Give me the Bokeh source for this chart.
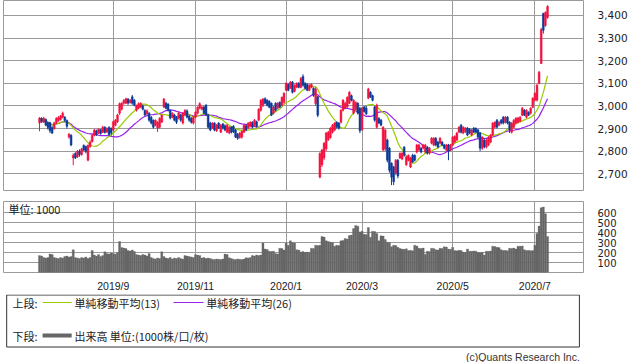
import pandas as pd
from bokeh.plotting import figure
from bokeh.layouts import column
from bokeh.models import Range1d, FixedTicker, NumeralTickFormatter, ColumnDataSource, Label
from bokeh.embed import file_html
from bokeh.resources import INLINE
from bokeh.core.properties import value

# ---------------- data ----------------
opens = [
    2924, 2945, 2928, 2940, 2925, 2925, 2905, 2900, 2925, 2935,
    2940, 2950, 2950, 2935, 2862, 2870, 2770, 2790, 2775, 2800,
    2785, 2825, 2820, 2760, 2820, 2842, 2870, 2890, 2880, 2895,
    2884, 2906, 2885, 2905, 2900, 2893, 2915, 2930, 2968, 2985,
    3012, 3012, 3030, 3015, 3040, 3025, 2981, 2990, 2995, 3000,
    2980, 2965, 2968, 2950, 2937, 2915, 2902, 2906, 2928, 2995,
    3012, 3008, 2981, 2950, 2960, 2950, 2946, 2960, 2924, 2959,
    2978, 2955, 2945, 2924, 2950, 2968, 2990, 2985, 2995, 3003,
    2960, 2924, 2902, 2924, 2890, 2924, 2884, 2920, 2912, 2884,
    2880, 2906, 2910, 2893, 2875, 2860, 2862, 2884, 2912, 2902,
    2910, 2928, 2915, 2930, 2937, 2981, 3003, 3032, 3025, 3020,
    3012, 2968, 3012, 2990, 3016, 3003, 3016, 3069, 3095, 3078,
    3105, 3065, 3082, 3100, 3082, 3130, 3100, 3095, 3069, 3082,
    3078, 3010, 3040, 2685, 2740, 2770, 2810, 2850, 2860, 2884,
    2893, 2928, 2924, 2928, 2981, 2990, 2995, 3012, 3045, 2968,
    2985, 3012, 2990, 2895, 2995, 2990, 3034, 3060, 3045, 2995,
    2906, 2945, 2937, 2805, 2810, 2849, 2813, 2747, 2730, 2703,
    2760, 2770, 2765, 2818, 2740, 2760, 2730, 2782, 2782, 2796,
    2805, 2813, 2813, 2796, 2818, 2791, 2835, 2827, 2857, 2840,
    2835, 2840, 2827, 2805, 2827, 2805, 2827, 2840, 2849, 2884,
    2915, 2880, 2886, 2902, 2897, 2871, 2902, 2900, 2893, 2880,
    2813, 2849, 2818, 2827, 2840, 2871, 2906, 2937, 2915, 2937,
    2950, 2928, 2950, 2928, 2884, 2906, 2924, 2928, 2932, 2959,
    2981, 2950, 2972, 2968, 2994, 3025, 3025, 3100, 3188, 3408,
    3356, 3391,
]
highs = [
    2950, 2950, 2952, 2945, 2930, 2930, 2910, 2930, 2950, 2955,
    2960, 2975, 2955, 2940, 2880, 2875, 2790, 2795, 2805, 2808,
    2815, 2830, 2825, 2830, 2848, 2875, 2898, 2895, 2900, 2898,
    2912, 2910, 2905, 2910, 2905, 2935, 2942, 2965, 3015, 3016,
    3030, 3036, 3035, 3030, 3048, 3030, 3005, 3015, 3016, 3005,
    2985, 2985, 2972, 2955, 2940, 2940, 2932, 2950, 2962, 3035,
    3018, 3012, 2985, 2972, 2965, 2955, 2972, 2965, 2972, 2985,
    2985, 2960, 2950, 2955, 2976, 2998, 3016, 3000, 3000, 3008,
    2965, 2930, 2928, 2928, 2920, 2928, 2920, 2925, 2918, 2920,
    2910, 2910, 2915, 2898, 2880, 2885, 2892, 2920, 2918, 2928,
    2932, 2932, 2942, 2935, 2990, 3030, 3035, 3038, 3030, 3025,
    3015, 3000, 3016, 3016, 3020, 3042, 3060, 3105, 3100, 3110,
    3110, 3095, 3104, 3105, 3128, 3140, 3105, 3100, 3096, 3100,
    3082, 3082, 3045, 2795, 2810, 2840, 2885, 2890, 2906, 2920,
    2928, 2932, 2928, 2985, 3030, 3018, 3042, 3065, 3050, 3030,
    3020, 3016, 2995, 2995, 3000, 3000, 3080, 3065, 3050, 3000,
    3010, 2950, 2942, 2910, 2898, 2855, 2818, 2750, 2735, 2765,
    2765, 2795, 2795, 2822, 2780, 2785, 2775, 2788, 2785, 2832,
    2832, 2818, 2832, 2832, 2822, 2818, 2862, 2862, 2862, 2845,
    2862, 2845, 2832, 2832, 2832, 2832, 2866, 2870, 2885, 2910,
    2920, 2910, 2906, 2906, 2902, 2898, 2906, 2905, 2898, 2885,
    2866, 2855, 2854, 2866, 2876, 2928, 2932, 2942, 2932, 2942,
    2955, 2955, 2955, 2932, 2928, 2942, 2950, 2952, 2955, 2995,
    2986, 2985, 2976, 2994, 3038, 3060, 3097, 3155, 3345, 3412,
    3418, 3445,
]
lows = [
    2888, 2925, 2925, 2910, 2895, 2880, 2875, 2895, 2920, 2930,
    2935, 2945, 2930, 2900, 2855, 2822, 2738, 2765, 2770, 2775,
    2780, 2800, 2790, 2755, 2815, 2838, 2865, 2868, 2875, 2872,
    2880, 2878, 2880, 2868, 2870, 2888, 2910, 2925, 2960, 2980,
    3005, 3008, 3005, 3010, 3005, 2998, 2975, 2985, 2990, 2980,
    2955, 2960, 2930, 2918, 2900, 2910, 2885, 2900, 2925, 2990,
    2985, 2975, 2940, 2945, 2932, 2920, 2940, 2930, 2918, 2955,
    2945, 2930, 2922, 2918, 2945, 2962, 2985, 2980, 2962, 2955,
    2900, 2888, 2898, 2888, 2885, 2898, 2880, 2896, 2888, 2880,
    2875, 2878, 2880, 2858, 2850, 2855, 2855, 2880, 2888, 2898,
    2905, 2900, 2910, 2905, 2932, 2975, 2995, 3008, 2998, 2990,
    2955, 2962, 2975, 2985, 2990, 2998, 3010, 3065, 3065, 3075,
    3055, 3060, 3078, 3078, 3078, 3085, 3072, 3065, 3065, 3078,
    3040, 3000, 2950, 2680, 2730, 2760, 2800, 2845, 2855, 2878,
    2888, 2900, 2895, 2922, 2975, 2985, 2990, 3008, 3020, 2962,
    2980, 2962, 2880, 2890, 2970, 2960, 3030, 3035, 3020, 2930,
    2900, 2920, 2910, 2800, 2800, 2750, 2705, 2650, 2650, 2695,
    2680, 2765, 2760, 2775, 2735, 2755, 2725, 2748, 2755, 2790,
    2800, 2790, 2808, 2790, 2785, 2785, 2830, 2822, 2822, 2812,
    2830, 2822, 2808, 2800, 2760, 2800, 2822, 2835, 2845, 2880,
    2878, 2875, 2880, 2866, 2875, 2866, 2880, 2880, 2855, 2800,
    2805, 2812, 2812, 2822, 2835, 2866, 2900, 2900, 2910, 2918,
    2918, 2922, 2918, 2880, 2878, 2900, 2918, 2922, 2928, 2955,
    2955, 2945, 2955, 2962, 2990, 3020, 3020, 3095, 3185, 3320,
    3350, 3385,
]
closes = [
    2946, 2930, 2945, 2915, 2905, 2890, 2880, 2925, 2945, 2948,
    2955, 2968, 2935, 2910, 2875, 2827, 2782, 2770, 2800, 2785,
    2810, 2805, 2798, 2825, 2840, 2870, 2893, 2872, 2897, 2878,
    2906, 2882, 2900, 2872, 2880, 2930, 2937, 2960, 3010, 3012,
    3025, 3032, 3012, 3025, 3012, 3003, 3003, 3010, 3012, 2985,
    2960, 2978, 2937, 2924, 2906, 2937, 2928, 2945, 2959, 3030,
    2990, 2981, 2946, 2968, 2937, 2928, 2968, 2937, 2968, 2981,
    2950, 2937, 2928, 2950, 2972, 2994, 3010, 2995, 2968, 2960,
    2906, 2893, 2924, 2893, 2915, 2902, 2915, 2902, 2893, 2915,
    2906, 2884, 2886, 2862, 2857, 2880, 2888, 2915, 2893, 2924,
    2928, 2906, 2937, 2910, 2985, 3025, 3030, 3012, 3003, 2994,
    2959, 2994, 2981, 3012, 2994, 3038, 3056, 3100, 3069, 3105,
    3060, 3091, 3100, 3082, 3122, 3091, 3078, 3069, 3091, 3095,
    3047, 3075, 2959, 2790, 2805, 2835, 2880, 2884, 2902, 2915,
    2924, 2906, 2902, 2981, 3025, 3012, 3038, 3060, 3025, 3025,
    3015, 2968, 2890, 2990, 2975, 2965, 3075, 3040, 3025, 2937,
    3003, 2924, 2915, 2906, 2893, 2760, 2716, 2685, 2665, 2760,
    2690, 2790, 2791, 2782, 2774, 2782, 2770, 2752, 2760, 2827,
    2827, 2796, 2827, 2827, 2791, 2813, 2857, 2857, 2827, 2818,
    2857, 2827, 2813, 2827, 2800, 2827, 2862, 2866, 2880, 2906,
    2884, 2906, 2902, 2871, 2880, 2893, 2884, 2884, 2862, 2813,
    2862, 2818, 2849, 2862, 2871, 2924, 2928, 2906, 2928, 2924,
    2924, 2950, 2924, 2893, 2924, 2937, 2946, 2946, 2950, 2990,
    2959, 2981, 2959, 2990, 3034, 3056, 3091, 3149, 3338, 3334,
    3413, 3440,
]
volumes = [
    170, 165, 150, 145, 150, 185, 180, 150, 145, 140,
    150, 145, 160, 165, 155, 160, 228, 150, 145, 140,
    150, 145, 155, 140, 150, 220, 175, 165, 180, 160,
    170, 208, 190, 185, 195, 190, 185, 200, 310, 250,
    245, 240, 220, 215, 225, 210, 180, 175, 170, 180,
    175, 165, 190, 150, 140, 135, 145, 140, 208, 160,
    145, 140, 150, 135, 145, 140, 150, 140, 135, 170,
    165, 160, 155, 150, 178, 175, 170, 145, 150, 140,
    145, 140, 133, 130, 135, 133, 130, 135, 185, 180,
    148, 140, 133, 130, 135, 133, 130, 135, 148, 145,
    150, 170, 165, 175, 170, 175, 295, 235, 230, 214,
    210, 214, 190, 185, 243, 240, 225, 295, 273, 318,
    300, 295, 228, 225, 205, 210, 200, 205, 200, 243,
    240, 273, 270, 273, 362, 355, 318, 310, 303, 300,
    264, 273, 270, 318, 320, 341, 335, 371, 375, 442,
    472, 465, 407, 413, 383, 380, 451, 353, 413, 410,
    392, 318, 368, 365, 332, 303, 300, 258, 273, 270,
    252, 240, 235, 232, 238, 220, 222, 218, 273, 265,
    243, 240, 245, 184, 214, 210, 243, 240, 228, 225,
    243, 240, 258, 255, 235, 232, 252, 220, 218, 222,
    220, 205, 200, 235, 214, 212, 216, 214, 200, 198,
    202, 175, 214, 212, 216, 264, 260, 252, 250, 228,
    220, 222, 218, 243, 240, 245, 235, 264, 262, 266,
    228, 220, 222, 218, 220, 273, 392, 466, 650, 656,
    590, 362,
]
month_idx = [35, 74, 117, 153, 196, 235]
month_labels = ["2019/9", "2019/11", "2020/1", "2020/3", "2020/5", "2020/7"]
price_ticks = [2700, 2800, 2900, 3000, 3100, 3200, 3300, 3400]
volume_ticks = [100, 200, 300, 400, 500, 600]
ma_short, ma_long = 13, 26

# ---------------- styles ----------------
UP = "#f2123f"
DOWN = "#0c3a98"
MA13_C = "#99cc00"
MA26_C = "#9922ee"
GRID = "#9a9a9a"
VOL_C = "#666666"
TXT = "#222222"
JP = "Noto Sans CJK JP"

n = len(closes)
idx = list(range(n))
colors = [UP if c >= o else DOWN for o, c in zip(opens, closes)]
src = ColumnDataSource(dict(
    x=idx, open=opens, high=highs, low=lows, close=closes,
    top=[max(o, c) for o, c in zip(opens, closes)],
    bottom=[min(o, c) for o, c in zip(opens, closes)],
    color=colors, vol=volumes,
))
cs = pd.Series(closes, dtype=float)
ma13 = cs.rolling(ma_short, min_periods=1).mean().tolist()
ma26 = cs.rolling(ma_long, min_periods=1).mean().tolist()

xr = Range1d(-17.08, 258.06)

# ---------------- price panel ----------------
p1 = figure(width=638, height=195, x_range=xr, y_range=Range1d(2626, 3466),
            y_axis_location="right", toolbar_location=None, output_backend="svg",
            min_border_left=3, min_border_right=55, min_border_top=0, min_border_bottom=5)
p1.xaxis.visible = False
p1.xgrid.ticker = FixedTicker(ticks=month_idx)
p1.yaxis.ticker = FixedTicker(ticks=price_ticks)
p1.yaxis.formatter = NumeralTickFormatter(format="0,0")
for p in (p1,):
    p.yaxis.axis_line_color = None
    p.yaxis.major_tick_line_color = None
    p.yaxis.minor_tick_line_color = None
    p.yaxis.major_label_standoff = 8
    p.yaxis.major_label_text_font = "DejaVu Sans"
    p.yaxis.major_label_text_font_size = "10.5px"
    p.yaxis.major_label_text_color = TXT
p1.grid.grid_line_color = GRID
p1.outline_line_color = GRID
p1.outline_line_alpha = 1

p1.line(idx, ma26, color=MA26_C, line_width=1.2)
p1.line(idx, ma13, color=MA13_C, line_width=1.2)
p1.segment(x0="x", y0="low", x1="x", y1="high", color="color", line_width=1, source=src)
p1.vbar(x="x", width=0.85, top="top", bottom="bottom", fill_color="color",
        line_color="color", line_width=0.5, source=src)

# ---------------- volume panel ----------------
p2 = figure(width=638, height=99, x_range=xr, y_range=Range1d(0, 712),
            y_axis_location="right", toolbar_location=None, output_backend="svg",
            min_border_left=3, min_border_right=55, min_border_top=6, min_border_bottom=13)
p2.xaxis.ticker = FixedTicker(ticks=month_idx)
p2.xaxis.major_label_overrides = {i: s for i, s in zip(month_idx, month_labels)}
p2.xaxis.axis_line_color = None
p2.xaxis.major_tick_line_color = None
p2.xaxis.minor_tick_line_color = None
p2.xaxis.major_label_standoff = 1
p2.xaxis.major_label_text_font = "Liberation Sans"
p2.xaxis.major_label_text_font_size = "10.5px"
p2.xaxis.major_label_text_color = TXT
p2.yaxis.ticker = FixedTicker(ticks=volume_ticks)
p2.yaxis.axis_line_color = None
p2.yaxis.major_tick_line_color = None
p2.yaxis.minor_tick_line_color = None
p2.yaxis.major_label_standoff = 8
p2.yaxis.major_label_text_font = "DejaVu Sans"
p2.yaxis.major_label_text_font_size = "10px"
p2.yaxis.major_label_text_color = TXT
p2.grid.grid_line_color = GRID
p2.outline_line_color = GRID
p2.vbar(x="x", width=1.0, top="vol", bottom=0, fill_color=VOL_C, line_color=VOL_C,
        line_width=0.3, source=src)
p2.add_layout(Label(x=-14.7, y=641, text="単位: 1000", text_font=JP, text_font_size="11px",
                    text_color=TXT, text_baseline="middle", text_align="left"))

# ---------------- legend panel ----------------
p3 = figure(width=638, height=68, x_range=Range1d(0, 638), y_range=Range1d(362, 294),
            toolbar_location=None, output_backend="svg", x_axis_location=None,
            y_axis_location=None, min_border_left=0, min_border_right=0,
            min_border_top=0, min_border_bottom=0)
p3.grid.visible = False
p3.outline_line_color = None
p3.quad(left=[3.5], right=[633.5], top=[294.5], bottom=[346.5], fill_color=None,
        line_color="#333333", line_width=1)
row1, row2 = 302, 335
p3.text(x=[10], y=[row1], text=["上段:"], text_font=value(JP), text_font_size="11px",
        text_color=TXT, text_baseline="middle")
p3.line([43, 75], [row1, row1], color=MA13_C, line_width=1.2)
p3.text(x=[78], y=[row1], text=["単純移動平均(13)"], text_font=value(JP),
        text_font_size="11px", text_color=TXT, text_baseline="middle")
p3.line([187, 220], [row1, row1], color=MA26_C, line_width=1.2)
p3.text(x=[223], y=[row1], text=["単純移動平均(26)"], text_font=value(JP),
        text_font_size="11px", text_color=TXT, text_baseline="middle")
p3.text(x=[10], y=[row2], text=["下段:"], text_font=value(JP), text_font_size="11px",
        text_color=TXT, text_baseline="middle")
p3.line([43, 75], [row2, row2], color=VOL_C, line_width=4)
p3.text(x=[78], y=[row2], text=["出来高 単位:(1000株/口/枚)"], text_font=value(JP),
        text_font_size="11px", text_color=TXT, text_baseline="middle")
p3.text(x=[634], y=[356], text=["(c)Quants Research Inc."], text_font=value("Liberation Sans"),
        text_font_size="10.5px", text_color="#333333", text_baseline="middle", text_align="right")

layout = column(p1, p2, p3, spacing=0)
open("out.html", "w").write(file_html(layout, INLINE))
